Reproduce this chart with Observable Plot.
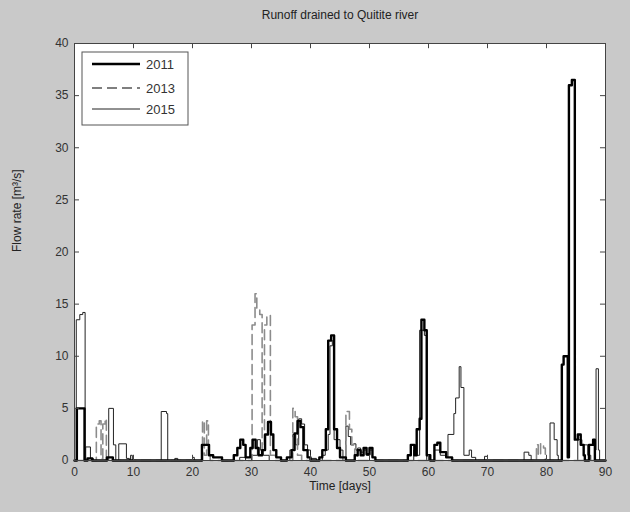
<!DOCTYPE html>
<html>
<head>
<meta charset="utf-8">
<script src="https://cdn.jsdelivr.net/npm/d3@7"></script>
<script src="https://cdn.jsdelivr.net/npm/@observablehq/plot@0.6"></script>
<style>
  html, body { margin: 0; padding: 0; background: #c9c9c9; }
  #chart svg { display: block; }
</style>
</head>
<body>
<div id="chart"></div>
<script>
const title = "Runoff drained to Quitite river";
const xLabel = "Time [days]";
const yLabel = "Flow rate [m\u00b3/s]";
const xTicks = [0, 10, 20, 30, 40, 50, 60, 70, 80, 90];
const yTicks = [0, 5, 10, 15, 20, 25, 30, 35, 40];
const years = ["2011", "2013", "2015"];

const days2011 = [0, 0.4, 1.7, 2.2, 3, 5.5, 6.5, 21.6, 22.8, 23.5, 25, 27, 27.6, 28.1, 28.6, 29, 29.8, 30.2, 30.7, 31.2, 31.8, 32.3, 32.8, 33.3, 33.7, 34.2, 35, 36, 36.8, 37.3, 37.8, 38.3, 38.8, 39.5, 40, 41.5, 42, 42.6, 43, 43.5, 44, 44.5, 45, 46, 47.5, 48, 48.5, 49, 49.5, 50, 50.5, 51, 56.5, 57, 57.6, 58, 58.5, 58.8, 59.3, 59.7, 60.3, 61, 61.5, 62, 63, 64, 82.6, 82.9, 83.6, 83.8, 84.3, 84.8, 85.3, 85.8, 86.3, 86.5, 87.2, 87.9, 88.2, 90];
const flow2011 = [0, 5, 0, 0.2, 0, 0.3, 0, 1.5, 0.5, 0.3, 0, 0.5, 1.2, 2, 1.5, 0.3, 1.2, 2, 1.2, 0.5, 1, 2.5, 3.7, 2.5, 1, 0.3, 0, 0.3, 1, 2.6, 3.8, 3.2, 1, 0.3, 0, 0.3, 1, 3, 11.5, 12, 3, 1.2, 0.3, 0, 0.5, 1, 0.5, 1.2, 0.6, 1.2, 0.3, 0, 0.5, 1.5, 0.5, 3, 4, 13.5, 12.5, 0.5, 0, 1.5, 1.7, 0.8, 0.3, 0, 9.2, 10, 0.3, 36, 36.5, 2, 2.5, 1.5, 0.5, 0, 1.5, 2, 0, 0];

const days2013 = [0, 3.7, 4.2, 4.5, 4.8, 5.2, 5.4, 21.7, 22, 22.4, 22.7, 23, 30.1, 30.6, 30.9, 31.4, 31.8, 32.2, 32.6, 33.2, 34, 37, 37.4, 37.8, 38.5, 46, 46.6, 47, 47.5, 48, 78.3, 78.6, 79, 79.5, 79.8, 90];
const flow2013 = [0, 3.5, 3.8, 0.2, 3.5, 4, 0, 3.8, 0.5, 3.8, 0.5, 0, 13, 16, 14.5, 14, 1, 13, 13.9, 0.5, 0, 5, 4.2, 0.5, 0, 4.7, 3, 1.5, 0.5, 0, 1.5, 0.5, 1.6, 1.2, 0, 0];

const days2015 = [0, 0.3, 0.9, 1.4, 1.8, 1.9, 2.7, 3.2, 5.8, 6.6, 7, 7.5, 8.8, 9.3, 9.5, 9.8, 14.7, 15.6, 15.8, 17, 17.5, 20, 20.3, 28, 29, 30, 31, 31.5, 32, 33, 36.5, 37, 37.5, 38, 38.5, 39, 39.5, 40, 41, 42, 42.5, 43, 43.3, 43.7, 44, 45, 45.5, 46, 46.4, 46.8, 47.3, 47.7, 48, 48.5, 49, 49.5, 50, 50.5, 51, 57.5, 58, 58.5, 59.3, 59.7, 61, 62, 63, 63.3, 64.3, 64.6, 65.2, 65.5, 66, 66.9, 67.3, 68, 69.5, 70, 76.2, 77, 77.4, 80.6, 81.3, 81.8, 82, 85.3, 86, 87, 87.5, 88.3, 88.4, 88.8, 89, 90];
const flow2015 = [0, 13.5, 14, 14.2, 0, 1.3, 0.2, 0, 5, 1.5, 0, 1.6, 0.2, 0, 0.5, 0, 4.7, 4.5, 0, 0.2, 0, 0.3, 0, 0.3, 0, 0.5, 2, 1, 0.5, 0, 1, 2.5, 1.5, 4, 3.5, 1.5, 1, 0.2, 0, 0.5, 1, 2.5, 11, 11.5, 2, 1, 0, 3.3, 2.3, 1.5, 1.6, 1, 1.2, 0.8, 1, 0.5, 1, 0.3, 0, 1, 0.5, 12.5, 12, 0, 1, 0.5, 0.3, 2.5, 4.5, 6, 9, 7, 0.5, 1, 0.3, 0, 0.4, 0, 0.8, 0.5, 0, 3.6, 2, 0.5, 0, 2, 1.5, 0.5, 0, 1, 8.8, 1, 0, 0];

const toRows = (days, flows, year) => days.map((t, i) => ({t, v: flows[i], year}));
const rows2011 = toRows(days2011, flow2011, "2011");
const rows2013 = toRows(days2013, flow2013, "2013");
const rows2015 = toRows(days2015, flow2015, "2015");

const styles = {
  "2011": {stroke: "#000", strokeWidth: 2.4, dash: null},
  "2013": {stroke: "#8c8c8c", strokeWidth: 1.6, dash: "10,5"},
  "2015": {stroke: "#222", strokeWidth: 1, dash: null}
};

const fontFamily = "'Liberation Sans', Arial, sans-serif";

const plot = Plot.plot({
  width: 630,
  height: 512,
  marginLeft: 74,
  marginRight: 25,
  marginTop: 43,
  marginBottom: 52,
  style: {background: "transparent", fontFamily, fontSize: "12px", color: "#333"},
  x: {domain: [0, 90]},
  y: {domain: [0, 40]},
  marks: [
    Plot.frame({fill: "white", stroke: null}),
    Plot.line(rows2015, {x: "t", y: "v", curve: "step-after", stroke: styles["2015"].stroke, strokeWidth: styles["2015"].strokeWidth}),
    Plot.line(rows2013, {x: "t", y: "v", curve: "step-after", stroke: styles["2013"].stroke, strokeWidth: styles["2013"].strokeWidth, strokeDasharray: styles["2013"].dash}),
    Plot.line(rows2011, {x: "t", y: "v", curve: "step-after", stroke: styles["2011"].stroke, strokeWidth: styles["2011"].strokeWidth}),
    Plot.ruleX(xTicks, {x: d => d, y1: 0, y2: 0.5, stroke: "#444"}),
    Plot.ruleX(xTicks, {x: d => d, y1: 39.5, y2: 40, stroke: "#444"}),
    Plot.ruleY(yTicks, {y: d => d, x1: 0, x2: 0.85, stroke: "#444"}),
    Plot.ruleY(yTicks, {y: d => d, x1: 89.15, x2: 90, stroke: "#444"}),
    Plot.frame({stroke: "#444", strokeWidth: 1}),
    Plot.axisX(xTicks, {tickSize: 0, tickPadding: 7, label: null, fontSize: 12, fill: "#333"}),
    Plot.axisY(yTicks, {tickSize: 0, tickPadding: 6, label: null, fontSize: 12, fill: "#333"}),
    Plot.text([title], {text: d => d, frameAnchor: "top", dy: -33, fontSize: 12, fill: "#222"}),
    Plot.text([xLabel], {text: d => d, frameAnchor: "bottom", dy: 29, fontSize: 12, fill: "#222"}),
    Plot.text([yLabel], {text: d => d, frameAnchor: "left", dx: -57, rotate: -90, fontSize: 12, fill: "#222"})
  ]
});

// Legend (drawn in pixel space, inside the plot's SVG)
const svg = d3.select(plot);
const lg = svg.append("g").attr("transform", "translate(82,52)");
lg.append("rect").attr("x", 0).attr("y", 0).attr("width", 106).attr("height", 73)
  .attr("fill", "white").attr("stroke", "#555").attr("stroke-width", 1);
const rowY = [12, 36, 57];
years.forEach((yr, i) => {
  const s = styles[yr];
  lg.append("line").attr("x1", 10).attr("x2", 58).attr("y1", rowY[i]).attr("y2", rowY[i])
    .attr("stroke", yr === "2013" ? "#555" : s.stroke)
    .attr("stroke-width", s.strokeWidth)
    .attr("stroke-dasharray", s.dash);
  lg.append("text").attr("x", 64).attr("y", rowY[i]).attr("dy", "0.35em")
    .attr("text-anchor", "start")
    .attr("font-family", fontFamily).attr("font-size", 13).attr("fill", "#333").text(yr);
});

document.getElementById("chart").appendChild(plot);
</script>
</body>
</html>
